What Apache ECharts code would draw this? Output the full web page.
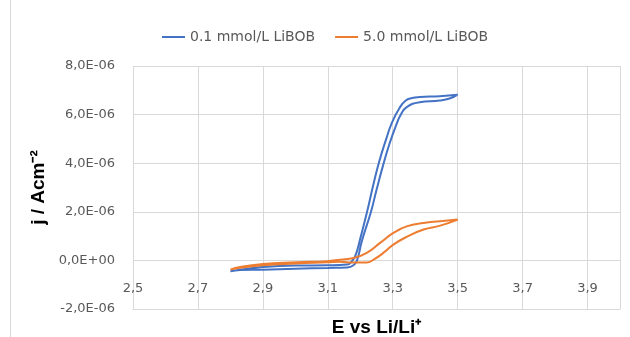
<!DOCTYPE html>
<html>
<head>
<meta charset="utf-8">
<script src="https://cdn.jsdelivr.net/npm/echarts@6/dist/echarts.min.js"></script>
<style>html,body{margin:0;padding:0;background:#fff}#c{width:630px;height:337px}</style>
</head>
<body>
<div id="c"></div>
<script>
// Series names
const seriesNames = ['0.1 mmol/L LiBOB', '5.0 mmol/L LiBOB'];
// Blue loop (0.1 mmol/L): potential (V) and current density (A/cm²)
const blueX = [2.80, 2.83, 2.90, 3.00, 3.10, 3.16, 3.178, 3.19, 3.205, 3.233, 3.25, 3.27, 3.29, 3.31, 3.325, 3.342, 3.383, 3.445, 3.475, 3.50,
               3.445, 3.383, 3.36, 3.34, 3.32, 3.297, 3.28, 3.258, 3.24, 3.221, 3.20, 3.185, 3.17, 3.16, 3.10, 3.00, 2.90, 2.83, 2.80];
const blueY = [-0.45e-6, -0.40e-6, -0.38e-6, -0.34e-6, -0.31e-6, -0.29e-6, -0.21e-6, 0.0e-6, 0.8e-6, 2.0e-6, 2.9e-6, 3.9e-6, 4.8e-6, 5.55e-6, 6.0e-6, 6.3e-6, 6.51e-6, 6.58e-6, 6.66e-6, 6.82e-6,
               6.76e-6, 6.72e-6, 6.68e-6, 6.58e-6, 6.25e-6, 5.65e-6, 5.0e-6, 4.05e-6, 3.1e-6, 2.0e-6, 0.9e-6, 0.2e-6, -0.1e-6, -0.17e-6, -0.20e-6, -0.21e-6, -0.27e-6, -0.38e-6, -0.45e-6];
// Orange loop (5.0 mmol/L)
const orangeX = [2.80, 2.83, 2.90, 3.00, 3.10, 3.138, 3.178, 3.22, 3.241, 3.271, 3.302, 3.343, 3.395, 3.446, 3.50,
                 3.446, 3.395, 3.343, 3.302, 3.261, 3.220, 3.179, 3.138, 3.098, 3.005, 2.90, 2.83, 2.80];
const orangeY = [-0.38e-6, -0.30e-6, -0.20e-6, -0.13e-6, -0.08e-6, -0.06e-6, -0.09e-6, -0.09e-6, 0.03e-6, 0.31e-6, 0.65e-6, 0.97e-6, 1.27e-6, 1.43e-6, 1.68e-6,
                 1.61e-6, 1.54e-6, 1.40e-6, 1.13e-6, 0.72e-6, 0.31e-6, 0.10e-6, 0.03e-6, -0.03e-6, -0.08e-6, -0.15e-6, -0.27e-6, -0.38e-6];
// Axis ranges / ticks
const xRange = [2.5, 4.0], xStep = 0.2;
const yRange = [-2e-6, 8e-6], yStep = 2e-6;

function pairs(xs, ys) { return xs.map((x, i) => [x, ys[i]]); }
function sci(v) {
  if (Math.abs(v) < 1e-12) v = 0;
  const s = v.toExponential(1);
  const parts = s.split('e');
  const ex = parseInt(parts[1], 10);
  return parts[0].replace('.', ',') + 'E' + (ex < 0 ? '-' : '+') + String(Math.abs(ex)).padStart(2, '0');
}

const chart = echarts.init(document.getElementById('c'), null, {renderer: 'canvas'});
const grey = '#595959';
chart.setOption({
  animation: false,
  backgroundColor: '#fff',
  graphic: [{type: 'line', shape: {x1: 10.5, y1: 0, x2: 10.5, y2: 337}, style: {stroke: '#d9d9d9', lineWidth: 1}}],
  legend: {
    left: 157, top: 25, itemWidth: 23, itemHeight: 2, itemGap: 20, icon: 'rect',
    textStyle: {fontFamily: 'DejaVu Sans', fontSize: 14, color: grey},
    data: seriesNames
  },
  grid: {left: 133, right: 10, top: 66, bottom: 28, containLabel: false, outerBoundsMode: 'none'},
  xAxis: {
    type: 'value', min: xRange[0], max: xRange[1], interval: xStep,
    axisLine: {show: true, onZero: false, lineStyle: {color: '#d9d9d9'}},
    axisTick: {show: false},
    axisLabel: {color: grey, fontFamily: 'DejaVu Sans', fontSize: 13, margin: -27, formatter: v => v.toFixed(1).replace('.', ','), showMaxLabel: false},
    splitLine: {show: true, lineStyle: {color: '#d9d9d9'}},
    name: 'E vs Li/Li\u207A', nameLocation: 'middle', nameGap: 9,
    nameTextStyle: {fontFamily: 'Liberation Sans', fontWeight: 'bold', fontSize: 19, color: '#000'}
  },
  yAxis: {
    type: 'value', min: yRange[0], max: yRange[1], interval: yStep,
    axisLine: {show: false}, axisTick: {show: false},
    axisLabel: {color: grey, fontFamily: 'DejaVu Sans', fontSize: 13, margin: 18, formatter: sci},
    splitLine: {show: true, lineStyle: {color: '#d9d9d9'}},
    name: 'j / Acm\u207B\u00B2', nameLocation: 'middle', nameRotate: 90, nameGap: 78,
    nameTextStyle: {fontFamily: 'Liberation Sans', fontWeight: 'bold', fontSize: 19, color: '#000'}
  },
  series: [
    {name: seriesNames[0], type: 'line', data: pairs(blueX, blueY), showSymbol: false, smooth: 0.5,
     lineStyle: {color: '#4472C4', width: 2}, itemStyle: {color: '#4472C4'}},
    {name: seriesNames[1], type: 'line', data: pairs(orangeX, orangeY), showSymbol: false, smooth: 0.5,
     lineStyle: {color: '#ED7D31', width: 2}, itemStyle: {color: '#ED7D31'}}
  ]
});
</script>
</body>
</html>
